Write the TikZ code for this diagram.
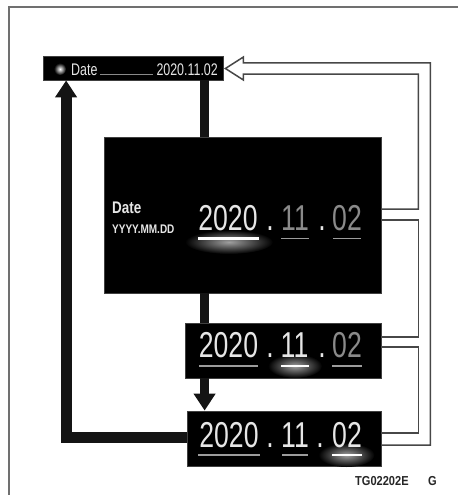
\documentclass[tikz,border=0pt]{standalone}
\usepackage{fontspec}
\setmainfont{Liberation Sans}
\newfontfamily\cond[FakeStretch=0.74]{Liberation Sans}
\newfontfamily\condb[FakeStretch=0.8]{Liberation Sans}
\newfontfamily\condc[FakeStretch=0.85]{Liberation Sans}
\usetikzlibrary{arrows.meta,calc}
\definecolor{lit}{HTML}{E6E6E6}
\definecolor{dim}{HTML}{8A8A8A}
\definecolor{frame}{HTML}{707070}
\begin{document}
\begin{tikzpicture}[x=1pt,y=-1pt,
  box/.style={fill=black, draw=black!75, line width=0.8pt, inner sep=0pt},
  thickline/.style={line width=9pt, draw=black!92},
  hollow/.style={draw=black!72, line width=1.5pt, line join=miter},
  dig/.style={inner sep=0pt, anchor=base, font=\cond\fontsize{36}{36}\selectfont},
  per/.style={inner sep=0pt, anchor=base, text=lit, font=\cond\fontsize{36}{36}\selectfont},
  bartxt/.style={inner sep=0pt, text=lit, font=\cond\fontsize{16.8}{17}\selectfont},
  uline/.style={line width=1.6pt, draw=dim!85},
  uhi/.style={line width=2.2pt, draw=white},
  glow/.style={inner color=gray!75, outer color=black}
]
\useasboundingbox (0,0) rectangle (458,495);
% frame
\draw[frame, line width=1.2pt] (9,495) -- (9,7) -- (458,7);

% boxes
\node[box, minimum width=180pt, minimum height=24pt] (bar) at (133,68) {};
\node[box, minimum width=277pt, minimum height=156pt] (big) at (242.5,215) {};
\node[box, minimum width=196pt, minimum height=55pt] (mid) at (283,350.5) {};
\node[box, minimum width=194pt, minimum height=55pt] (bot) at (284,438.5) {};

% thick connectors
\coordinate (c1) at ($(bar.south west)+(161.5,0)$);
\draw[thickline] (c1) -- (c1 |- big.north);
\coordinate (c2) at ($(big.south west)+(100.5,0)$);
\draw[thickline] (c2) -- (c2 |- mid.north);
\coordinate (c3) at ($(mid.south west)+(20,0)$);
\draw[thickline, -{Triangle[length=17pt,width=21pt]}] (c3) -- (c3 |- bot.north);
\coordinate (c4) at ($(bar.south west)+(23.5,0)$);
\draw[line width=11pt, draw=black!92, -{Triangle[length=17pt,width=21pt]}] ($(bot.west)+(0,-1)$) -| (c4);

% hollow arrow
\coordinate (tip) at ($(bar.east)+(2,0.5)$);
\draw[hollow] ($(bot.east)+(0,6.5)$) -- ++(49,0) -- ++(0,-382) -- ++(-187,0) -- ++(0,-6)
  -- (tip) -- ++(18,11.5) -- ++(0,-6) -- ++(175,0) |- ($(big.east)+(0,-6)$);
\draw[hollow] ($(big.east)+(0,5)$) -- ++(37,0) |- ($(mid.east)+(0,-13.5)$);
\draw[hollow] ($(mid.east)+(0,-3.5)$) -- ++(37,0) |- ($(bot.east)+(0,-5.5)$);

% top bar content
\shade[inner color=white, outer color=black] (60,69) circle (6pt);
\node[bartxt, anchor=base west] (bdate) at (71,75) {Date};
\node[bartxt, anchor=base east] (bval) at (218,75) {2020.11.02};
\draw[dim, line width=0.9pt] (100,74.6) -- (153,74.6);

% big box content
\node[inner sep=0pt, anchor=base west, text=lit, font=\condb\bfseries\fontsize{16.8}{17}\selectfont] (bl1) at (112,213) {Date};
\node[inner sep=0pt, anchor=base west, text=lit, font=\condb\bfseries\fontsize{12.5}{13}\selectfont] (bl2) at (112,233) {YYYY.MM.DD};
\shade[glow] (229,242) ellipse (44pt and 12pt);
\node[dig, text=lit] (g1) at (228,230) {2020};
\node[per] (gp1) at (270,230) {.};
\node[dig, text=dim] (g2) at (295,230) {11};
\node[per] (gp2) at (322,230) {.};
\node[dig, text=dim] (g3) at (347,230) {02};
\draw[uhi] (198,238.5) -- (259,238.5);
\draw[uline] (281,238.5) -- (309,238.5);
\draw[uline] (333,238.5) -- (361,238.5);

% middle box content
\shade[glow] (295,366) ellipse (27pt and 12pt);
\node[dig, text=lit] (m1) at (228.5,357) {2020};
\node[per] (mp1) at (270,357) {.};
\node[dig, text=lit] (m2) at (294.5,357) {11};
\node[per] (mp2) at (322,357) {.};
\node[dig, text=dim] (m3) at (347,357) {02};
\draw[uline] (199,366) -- (258,366);
\draw[uhi] (281,366) -- (309,366);
\draw[uline] (332,366) -- (362,366);

% bottom box content
\shade[glow] (346.5,455) ellipse (28pt and 12pt);
\node[dig, text=lit] (d1) at (229,447) {2020};
\node[per] (dp1) at (270,447) {.};
\node[dig, text=lit] (d2) at (295,447) {11};
\node[per] (dp2) at (320,447) {.};
\node[dig, text=lit] (d3) at (347,447) {02};
\draw[uline] (198,455) -- (260,455);
\draw[uline] (282,455) -- (308,455);
\draw[uhi] (332,455) -- (362,455);

% code
\node[inner sep=0pt, anchor=base west, text=black!85, font=\condc\bfseries\fontsize{13}{13}\selectfont] (code) at (355,485) {TG02202E};
\node[inner sep=0pt, anchor=base west, text=black!85, font=\condc\bfseries\fontsize{13}{13}\selectfont] (codeg) at (428,485) {G};
\end{tikzpicture}
\end{document}
